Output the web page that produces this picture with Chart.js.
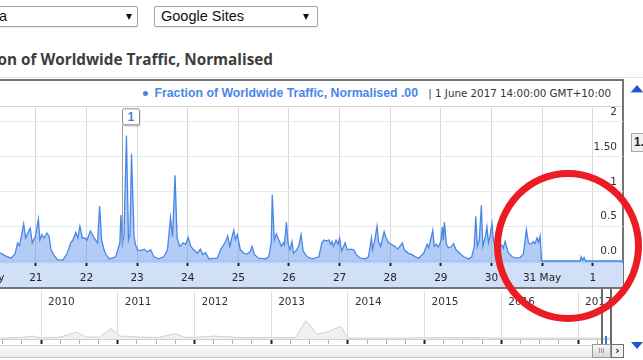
<!DOCTYPE html>
<html>
<head>
<meta charset="utf-8">
<script src="https://cdn.jsdelivr.net/npm/chart.js@4.4.0/dist/chart.umd.min.js"></script>
<style>
    html, body { margin: 0; padding: 0; width: 643px; height: 360px; overflow: hidden; background: #fff; position: relative; }
    .abs { position: absolute; }
    .sel { position: absolute; top: 6px; height: 21px; box-sizing: border-box; border: 1px solid #a4a4a4; border-radius: 2px; background: #fff; font: 14.5px "Liberation Sans", Arial, sans-serif; color: #111; box-shadow: 0 1px 1px rgba(0,0,0,0.08); }
    .sel .txt { position: absolute; top: 1px; white-space: nowrap; }
    .sel .arr { position: absolute; top: 7px; width: 0; height: 0; border-left: 3.5px solid transparent; border-right: 3.5px solid transparent; border-top: 6px solid #111; }
    .title { position: absolute; right: 370px; top: 49px; white-space: nowrap; font: bold 15.3px "Open Sans", sans-serif; color: #3d3d3d; }
    .frame { position: absolute; left: -5px; top: 79px; width: 629px; height: 210px; box-sizing: border-box; border: 2px solid #757575; }
    canvas { position: absolute; }
</style>
</head>
<body>
<div class="sel" style="left:-100px;width:238px"><span class="txt" style="right:130px">Australia</span><span class="arr" style="right:5px"></span></div>
<div class="sel" style="left:154px;width:164px"><span class="txt" style="left:6px">Google Sites</span><span class="arr" style="right:8px"></span></div>

<div class="title">Fraction of Worldwide Traffic, Normalised</div>
<div class="abs" style="left:0;top:77px;width:643px;height:1px;background:#e4e4e4"></div>

<div class="frame"></div>
<div class="abs" style="left:143px;top:91px;width:5px;height:5px;border-radius:50%;background:#4a86e8"></div>
<div class="abs" style="right:225px;top:86px;white-space:nowrap;font:bold 12.3px 'Liberation Sans',Arial,sans-serif;color:#4a86e8">Fraction of Worldwide Traffic, Normalised .00</div>
<div class="abs" style="right:32px;top:87px;white-space:nowrap;font:10.3px 'DejaVu Sans',sans-serif;color:#333">| 1 June 2017 14:00:00 GMT+10:00</div>
<div class="abs" style="left:0;top:106px;width:622px;height:1px;background:#d4d4d4"></div>

<canvas id="traffic" width="663" height="180" style="left:-40px;top:107px;width:663px;height:180px"></canvas>
<canvas id="nav" width="611" height="54" style="left:0;top:291px;width:611px;height:54px"></canvas>

<!-- navigator window + scrollbar -->
<div class="abs" style="left:601px;top:289px;width:2px;height:55px;background:#6a6a6a"></div>
<div class="abs" style="left:610px;top:289px;width:2px;height:55px;background:#6a6a6a"></div>
<div class="abs" style="left:605px;top:336px;width:2px;height:8px;background:#3d7be0"></div>
<div class="abs" style="left:0;top:345px;width:592px;height:11px;border-top:1px solid #d6d6d6;border-bottom:1px solid #cacaca;background:linear-gradient(#fbfbfb,#ececec)"></div>
<div class="abs" style="left:592px;top:344px;width:17px;height:12px;border:1px solid #9a9a9a;background:linear-gradient(#f7f7f7,#dadada);font:7px 'DejaVu Sans',sans-serif;color:#777;text-align:center;line-height:12px">III</div>
<div class="abs" style="left:611px;top:344px;width:11px;height:12px;border:1px solid #6f6f6f;background:#f2f2f2;font:bold 11px 'DejaVu Sans',sans-serif;color:#222;text-align:center;line-height:12px">›</div>

<!-- right side controls -->
<div class="abs" style="left:631px;top:85px;width:0;height:0;border-left:6px solid transparent;border-right:6px solid transparent;border-bottom:7px solid #1f55d6"></div>
<div class="abs" style="left:630px;top:92px;width:13px;height:1px;background:#a9bde8"></div>
<div class="abs" style="left:631px;top:133px;width:24px;height:17px;border:1px solid #a8a8a8;background:#f0f0f0;font:bold 12px 'Liberation Sans',Arial,sans-serif;color:#222;line-height:17px;padding-left:2px">1.00</div>
<div class="abs" style="left:631px;top:342px;width:0;height:0;border-left:6px solid transparent;border-right:6px solid transparent;border-top:7px solid #1f55d6"></div>

<!-- red annotation ring -->
<div class="abs" style="left:494px;top:170px;width:148px;height:152px;box-sizing:border-box;border:7px solid #ec1c24;border-radius:50%;z-index:10"></div>

<script>
// Worldwide traffic chart (days of May; 32 = 1 June)
const xTickDays = [20, 21, 22, 23, 24, 25, 26, 27, 28, 29, 30, 31, 32];
const xTickLabels = ['20 May', '21', '22', '23', '24', '25', '26', '27', '28', '29', '30', '31 May', '1'];
const yTickValues = [0, 0.5, 1, 1.5, 2];
const yTickLabels = ['0.0', '0.5', '1', '1.50', '2'];

const trafficDays = [
    20.2, 20.31, 20.41, 20.51, 20.59, 20.64, 20.68, 20.76, 20.80, 20.84,
    20.89, 20.93, 20.99, 21.05, 21.08, 21.12, 21.16, 21.22, 21.26, 21.30,
    21.36, 21.43, 21.53, 21.62, 21.69, 21.73, 21.79, 21.83, 21.87, 21.92,
    21.97, 22.01, 22.08, 22.15, 22.22, 22.26, 22.30, 22.34, 22.38,
    22.45, 22.58, 22.66, 22.68, 22.71, 22.74, 22.79, 22.83, 22.86, 22.89,
    22.94, 22.97, 23.01, 23.07, 23.14, 23.20, 23.27, 23.33, 23.43, 23.53,
    23.60, 23.66, 23.70, 23.75, 23.79, 23.84, 23.91, 23.96, 24.01, 24.06,
    24.12, 24.19, 24.25, 24.30, 24.35, 24.42,
    24.58, 24.65, 24.75, 24.79, 24.83, 24.87, 24.91, 24.94, 24.98, 25.04,
    25.11, 25.18, 25.24, 25.27, 25.32, 25.40, 25.54, 25.60, 25.65, 25.67,
    25.71, 25.75, 25.80, 25.85, 25.89, 25.91, 25.95, 25.98, 26.02, 26.06,
    26.09, 26.15, 26.19, 26.24, 26.28, 26.36, 26.46, 26.59,
    26.65, 26.69, 26.73, 26.79, 26.82, 26.85, 26.88, 26.93, 26.97, 27.00,
    27.04, 27.11, 27.15, 27.21, 27.28, 27.33, 27.41, 27.51, 27.57, 27.63,
    27.65, 27.69, 27.74, 27.77, 27.81, 27.84, 27.88, 27.92, 27.97, 28.02,
    28.09, 28.15, 28.24, 28.28, 28.36, 28.43, 28.50, 28.56,
    28.66, 28.73, 28.76, 28.79, 28.84, 28.87, 28.91, 28.95, 29.00, 29.03,
    29.05, 29.07, 29.11, 29.15, 29.20, 29.25, 29.30, 29.37, 29.45, 29.55,
    29.61, 29.66, 29.69, 29.72, 29.76, 29.80, 29.83, 29.88, 29.91, 29.94,
    29.97, 30.01, 30.04, 30.11, 30.20, 30.23, 30.27, 30.33, 30.41, 30.49,
    30.57, 30.63, 30.69, 30.73, 30.78, 30.82, 30.86, 30.90, 30.93, 30.96,
    30.99, 31.75, 31.77, 31.80, 31.83, 31.86, 32.6
];
const trafficValues = [
    0.14, 0.11, 0.07, 0.04, 0.10, 0.26, 0.22, 0.53, 0.33, 0.40,
    0.47, 0.26, 0.35, 0.60, 0.30, 0.38, 0.33, 0.40, 0.36, 0.16,
    0.08, 0.02, 0.01, 0.11, 0.26, 0.30, 0.41, 0.33, 0.50, 0.33,
    0.33, 0.30, 0.43, 0.33, 0.26, 0.79, 0.30, 0.18, 0.10,
    0.03, 0.06, 0.26, 0.66, 0.24, 0.35, 1.80, 0.30, 0.38, 1.54,
    0.35, 0.23, 0.16, 0.15, 0.17, 0.13, 0.16, 0.06, 0.03, 0.06,
    0.16, 0.62, 0.35, 1.23, 0.33, 0.21, 0.26, 0.24, 0.34, 0.21,
    0.16, 0.11, 0.17, 0.09, 0.12, 0.03,
    0.04, 0.16, 0.28, 0.36, 0.21, 0.33, 0.44, 0.31, 0.38, 0.16,
    0.11, 0.10, 0.14, 0.21, 0.09, 0.04, 0.03, 0.06, 0.26, 0.95,
    0.30, 0.39, 0.30, 0.21, 0.26, 0.23, 0.56, 0.26, 0.16, 0.28,
    0.11, 0.16, 0.21, 0.38, 0.14, 0.06, 0.03, 0.06,
    0.26, 0.30, 0.29, 0.30, 0.24, 0.28, 0.21, 0.30, 0.24, 0.33,
    0.14, 0.26, 0.16, 0.17, 0.16, 0.09, 0.04, 0.03, 0.06, 0.33,
    0.16, 0.28, 0.50, 0.28, 0.21, 0.30, 0.42, 0.33, 0.26, 0.24,
    0.21, 0.17, 0.26, 0.16, 0.11, 0.09, 0.06, 0.04,
    0.11, 0.24, 0.19, 0.28, 0.44, 0.21, 0.24, 0.20, 0.28, 0.49,
    0.30, 0.56, 0.24, 0.19, 0.20, 0.25, 0.16, 0.11, 0.06, 0.03,
    0.06, 0.21, 0.64, 0.21, 0.30, 0.80, 0.21, 0.35, 0.49, 0.26,
    0.35, 0.54, 0.28, 0.15, 0.23, 0.18, 0.28, 0.12, 0.06, 0.04,
    0.05, 0.10, 0.45, 0.26, 0.24, 0.28, 0.25, 0.33, 0.27, 0.36,
    0, 0, 0.06, 0.01, 0.05, 0, 0
];

// annotation flag "1"
const flagDay = 22.71;
const flagValue = 0.24;
const flagLabel = '1';

// overview strip (years)
const navYearTicks = [2010, 2011, 2012, 2013, 2014, 2015, 2016, 2017];
const navYears = [
    2009.47, 2009.73, 2009.90, 2010.0, 2010.25, 2010.46, 2010.59, 2010.77, 2010.91, 2011.03,
    2011.29, 2011.53, 2011.75, 2011.89, 2012.07, 2012.27, 2012.59, 2013.01, 2013.32, 2013.45,
    2013.60, 2013.72, 2013.91, 2014.0, 2014.68, 2015.33, 2015.98, 2016.77, 2017.29, 2017.43
];
const navValues = [
    1, 1.5, 3, 1, 2, 7, 2, 2, 11, 3,
    2, 1.5, 5.5, 1.5, 2, 3, 1.5, 1.5, 1.5, 19,
    5, 7, 13, 1, 1, 1.5, 1, 1, 1, 1
];

Chart.defaults.font.family = '"DejaVu Sans", sans-serif';

const axisBand = {
    id: 'axisBand',
    beforeDraw(chart) {
        const { ctx, chartArea } = chart;
        ctx.save();
        ctx.fillStyle = '#cfe0f8';
        ctx.fillRect(0, chartArea.bottom, chart.width, chart.height - chartArea.bottom);
        ctx.restore();
    }
};

const flagPlugin = {
    id: 'flag',
    afterDatasetsDraw(chart) {
        const { ctx, scales, chartArea } = chart;
        const x = Math.round(scales.x.getPixelForValue(flagDay)) + 0.5;
        const top = chartArea.top + 1.5;
        const base = scales.y.getPixelForValue(flagValue);
        ctx.save();
        ctx.strokeStyle = '#a0a0a0';
        ctx.lineWidth = 1;
        ctx.beginPath();
        ctx.moveTo(x, top + 16);
        ctx.lineTo(x, base);
        ctx.stroke();
        // small shadow then box
        ctx.fillStyle = 'rgba(0,0,0,0.15)';
        ctx.fillRect(x + 1, top + 1, 17, 17);
        ctx.fillStyle = '#fff';
        ctx.strokeStyle = '#8a8a8a';
        ctx.beginPath();
        ctx.roundRect(x, top, 17, 16, 2);
        ctx.fill();
        ctx.stroke();
        ctx.fillStyle = '#3f7ee0';
        ctx.font = 'bold 12px "Liberation Sans", Arial, sans-serif';
        ctx.textAlign = 'center';
        ctx.textBaseline = 'middle';
        ctx.fillText(flagLabel, x + 8.5, top + 8.5);
        ctx.restore();
    }
};

const trafficChart = new Chart(document.getElementById('traffic'), {
    type: 'line',
    data: {
        datasets: [{
            data: trafficDays.map((d, i) => ({ x: d, y: trafficValues[i] })),
            borderColor: '#4a86e8',
            borderWidth: 1.3,
            backgroundColor: 'rgba(74, 134, 232, 0.42)',
            fill: 'start',
            tension: 0,
            pointRadius: 0
        }]
    },
    options: {
        responsive: false,
        animation: false,
        layout: { padding: 0 },
        plugins: {
            legend: { display: false },
            tooltip: { enabled: false }
        },
        scales: {
            x: {
                type: 'linear',
                min: 19.521,
                max: 32.598,
                afterBuildTicks: (scale) => { scale.ticks = xTickDays.map(v => ({ value: v })); },
                afterFit: (scale) => { scale.height = 24; },
                grid: { color: '#d3d9d3', tickColor: '#222', tickLength: 3, tickWidth: 2 },
                border: { display: false },
                ticks: {
                    color: '#222',
                    font: { size: 10.5 },
                    padding: 6,
                    maxRotation: 0,
                    autoSkip: false,
                    callback: (value) => xTickLabels[xTickDays.indexOf(value)]
                }
            },
            y: {
                position: 'right',
                min: -0.029,
                max: 2.206,
                afterBuildTicks: (scale) => { scale.ticks = yTickValues.map(v => ({ value: v })); },
                afterFit: (scale) => { scale.width = 0; },
                grid: { color: '#e7e9f3', drawTicks: false },
                border: { display: false },
                ticks: {
                    mirror: true,
                    padding: -6,
                    labelOffset: -9.5,
                    color: '#333',
                    font: { size: 10.5 },
                    callback: (value) => yTickLabels[yTickValues.indexOf(value)]
                }
            }
        }
    },
    plugins: [axisBand, flagPlugin]
});

// quarter marks under the overview strip
const navQuarterTicks = [2009.5, 2009.75];
navYearTicks.forEach(y => {
    [0, 0.25, 0.5, 0.75].forEach(q => navQuarterTicks.push(y + q));
});

const navChart = new Chart(document.getElementById('nav'), {
    type: 'line',
    data: {
        datasets: [{
            data: navYears.map((y, i) => ({ x: y, y: navValues[i] })),
            borderColor: '#cfcfcf',
            borderWidth: 1,
            backgroundColor: '#f1f1f1',
            fill: 'start',
            tension: 0,
            pointRadius: 0
        }]
    },
    options: {
        responsive: false,
        animation: false,
        layout: { padding: 0 },
        plugins: {
            legend: { display: false },
            tooltip: { enabled: false }
        },
        scales: {
            x: {
                type: 'linear',
                position: 'bottom',
                min: 2009.465,
                max: 2017.43,
                afterBuildTicks: (scale) => { scale.ticks = navQuarterTicks.map(v => ({ value: v })); },
                afterFit: (scale) => { scale.height = 6; },
                grid: {
                    drawOnChartArea: false,
                    tickLength: 5,
                    tickColor: (ctx) => Number.isInteger(ctx.tick.value) ? '#222' : '#b5b5b5',
                    tickWidth: (ctx) => Number.isInteger(ctx.tick.value) ? 2 : 1
                },
                border: { color: '#cfcfcf' },
                ticks: { display: false }
            },
            x2: {
                type: 'linear',
                position: 'top',
                min: 2009.465,
                max: 2017.43,
                afterBuildTicks: (scale) => { scale.ticks = navYearTicks.map(v => ({ value: v })); },
                afterFit: (scale) => { scale.height = 18; },
                grid: { color: '#dedede', tickColor: '#dedede', tickLength: 18 },
                border: { display: false },
                ticks: {
                    align: 'start',
                    labelOffset: 7,
                    padding: -18,
                    color: '#333',
                    font: { size: 10.5 },
                    callback: (value) => String(value)
                }
            },
            y: { display: false, min: 0, max: 31 }
        }
    }
});
</script>
</body>
</html>
